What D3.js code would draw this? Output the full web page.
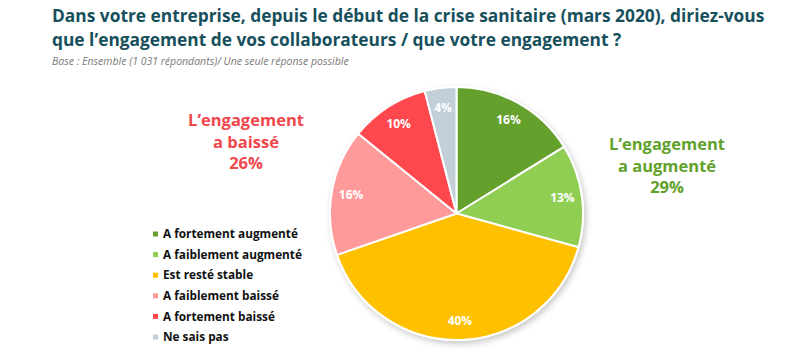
<!DOCTYPE html>
<html><head><meta charset="utf-8">
<script src="https://cdn.jsdelivr.net/npm/d3@7"></script>
<style>body{margin:0;background:#fff}svg{display:block}</style>
</head><body>
<script>
const categories = ["A fortement augmenté","A faiblement augmenté","Est resté stable","A faiblement baissé","A fortement baissé","Ne sais pas"];
const values = [16,13,40,16,10,4];
const colors = ["#63a02c","#8fcd53","#ffc000","#ff9a9a","#ff484d","#c2cfd8"];
const titleLines = ["Dans votre entreprise, depuis le début de la crise sanitaire (mars 2020), diriez-vous","que l’engagement de vos collaborateurs / que votre engagement ?"];
const subtitle = "Base : Ensemble (1 031 répondants)/ Une seule réponse possible";
const upLabel = ["L’engagement","a augmenté","29%"];
const downLabel = ["L’engagement","a baissé","26%"];

const W=800,H=352;
const svg=d3.select("body").append("svg").attr("width",W).attr("height",H);
const defs=svg.append("defs");
const f=defs.append("filter").attr("id","sh").attr("x","-20%").attr("y","-20%").attr("width","140%").attr("height","140%");
f.append("feDropShadow").attr("dx",2).attr("dy",3).attr("stdDeviation",3).attr("flood-color","#000").attr("flood-opacity",0.22);

const font="'Open Sans', sans-serif";
svg.selectAll("text.title").data(titleLines).join("text").attr("class","title")
  .attr("x",52).attr("y",(d,i)=>22+i*24)
  .attr("font-family",font).attr("font-weight",700).attr("font-size",18.5)
  .attr("fill","#17505c").text(d=>d)
  .each(function(d,i){ if(i===0){const w=this.getComputedTextLength(); const target=713; d3.select(this.parentNode).selectAll("text.title").attr("font-size",18.5*target/w);} });

svg.append("text").attr("x",52).attr("y",65).attr("font-family",font).attr("font-style","italic")
  .attr("font-size",10.5).attr("fill","#7a7a7a").text(subtitle);

const cx=456.5,cy=213.5,R=126.5;
const pie=d3.pie().sort(null).value(d=>d);
const arcs=pie(values);
const arc=d3.arc().innerRadius(0).outerRadius(R);
const labelArc=d3.arc().innerRadius(107).outerRadius(107);
const g=svg.append("g").attr("transform",`translate(${cx},${cy})`);
g.append("circle").attr("r",R+1).attr("fill","#fff").attr("filter","url(#sh)");
g.selectAll("path").data(arcs).join("path").attr("d",arc)
  .attr("fill",(d,i)=>colors[i]).attr("stroke","#fff").attr("stroke-width",2).attr("stroke-linejoin","round");
g.selectAll("text").data(arcs).join("text")
  .attr("transform",d=>`translate(${labelArc.centroid(d)})`)
  .attr("text-anchor","middle").attr("dy","0.35em")
  .attr("font-family",font).attr("font-weight",700).attr("font-size",12)
  .attr("fill","#fff").text(d=>d.data+"%");

const leg=svg.append("g");
const ly=d3.scalePoint().domain(categories).range([234,337]);
leg.selectAll("rect").data(categories).join("rect")
  .attr("x",153).attr("y",d=>ly(d)-2.5).attr("width",5).attr("height",5)
  .attr("fill",(d,i)=>colors[i]);
leg.selectAll("text").data(categories).join("text")
  .attr("x",163).attr("y",d=>ly(d)).attr("dy","0.35em")
  .attr("font-family",font).attr("font-weight",700).attr("font-size",11.8)
  .attr("fill","#111").text(d=>d);

svg.selectAll("text.up").data(upLabel).join("text").attr("class","up")
  .attr("x",667).attr("y",(d,i)=>150+i*21.5).attr("text-anchor","middle")
  .attr("font-family",font).attr("font-weight",700).attr("font-size",16.5)
  .attr("fill","#5fa12a").text(d=>d);
svg.selectAll("text.down").data(downLabel).join("text").attr("class","down")
  .attr("x",246).attr("y",(d,i)=>126+i*21.5).attr("text-anchor","middle")
  .attr("font-family",font).attr("font-weight",700).attr("font-size",16.5)
  .attr("fill","#f0474b").text(d=>d);
</script>
</body></html>
